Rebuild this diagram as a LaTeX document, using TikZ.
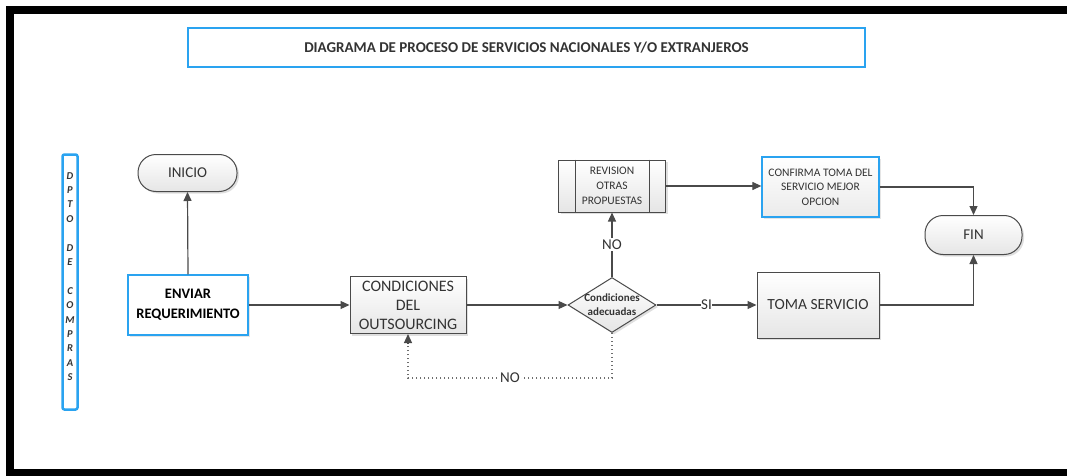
\documentclass[tikz,border=0pt]{standalone}
\usepackage{fontspec}
\setmainfont{Carlito}
\usetikzlibrary{arrows.meta,shapes.geometric,shadows}
\definecolor{lineg}{HTML}{4A4A4A}
\definecolor{boxblue}{HTML}{2AA3F0}
\definecolor{txtg}{HTML}{333333}
\tikzset{
  conn/.style={draw=lineg,line width=1.2pt,-{Triangle[length=9pt,width=8pt]}},
  plain/.style={draw=lineg,line width=1.2pt},
  dots/.style={draw=lineg!80,line width=1.3pt,dash pattern=on 1.3pt off 2.7pt},
  graybox/.style={draw=lineg,line width=1pt,top color=white,bottom color=black!10,
     drop shadow={opacity=0.25,shadow xshift=2pt,shadow yshift=-2pt},text=txtg,align=center,inner sep=0pt},
  bluebox/.style={draw=boxblue,line width=1.3pt,fill=white,text=black,align=center,inner sep=0pt,
     drop shadow={opacity=0.2,shadow xshift=2pt,shadow yshift=-2pt}},
  pill/.style={draw=lineg,line width=1pt,rounded corners=18pt,top color=white,bottom color=black!10,
     drop shadow={opacity=0.25,shadow xshift=2pt,shadow yshift=-2pt},text=txtg,inner sep=0pt},
  lbl/.style={fill=white,inner sep=1.5pt,text=txtg,font=\fontsize{15}{15}\selectfont},
}
\begin{document}
\begin{tikzpicture}[x=1pt,y=-1pt]
\useasboundingbox (0,0) rectangle (1067,476);
% frame
\fill[white] (0,0) rectangle (1067,476);
\fill[black] (6,6) rectangle (1067,14);
\fill[black] (6,6) rectangle (14,476);
\fill[black] (6,469) rectangle (1067,476);
% title
\node[draw=boxblue,line width=1.2pt,minimum width=677pt,minimum height=39pt,inner sep=0pt,
  font=\bfseries\fontsize{15}{16}\selectfont,text=txtg] (title) at (526.5,47.5)
  {DIAGRAMA DE PROCESO DE SERVICIOS NACIONALES Y/O EXTRANJEROS};
% lane
\node[draw=boxblue,line width=2.5pt,rounded corners=2pt,minimum width=15pt,minimum height=255pt,inner sep=0pt] (lane) at (70,282) {};
\node[font=\bfseries\itshape\fontsize{10.5}{14.4}\selectfont,align=center,text=txtg,anchor=north,inner sep=0pt] (lanetxt) at (70,172)
  {D\\P\\T\\O\\[14.4pt]D\\E\\[14.4pt]C\\O\\M\\P\\R\\A\\S};
% nodes
\node[pill,minimum width=99pt,minimum height=37pt,font=\fontsize{15}{16}\selectfont] (inicio) at (187.5,173) {INICIO};
\node[bluebox,minimum width=120pt,minimum height=60pt,font=\bfseries\fontsize{14.5}{20}\selectfont] (enviar) at (188,305) {ENVIAR\\REQUERIMIENTO};
\node[graybox,minimum width=116pt,minimum height=57pt,font=\fontsize{16}{19}\selectfont] (cond) at (408,305) {CONDICIONES\\DEL\\OUTSOURCING};
\node[diamond,draw=lineg,line width=1pt,top color=white,bottom color=black!10,
  drop shadow={opacity=0.25,shadow xshift=2pt,shadow yshift=-2pt},
  minimum width=88pt,minimum height=55pt,inner sep=0pt,aspect=1.6] (dec) at (612,305) {};
\node[font=\bfseries\fontsize{11}{14}\selectfont,align=center,text=txtg] (dectxt) at (dec.center) {Condiciones\\adecuadas};
\node[graybox,minimum width=107pt,minimum height=52pt,font=\fontsize{11.5}{15}\selectfont] (rev) at (612,186) {REVISION\\OTRAS\\PROPUESTAS};
\draw[lineg,line width=1pt] ([xshift=17pt]rev.north west) -- ([xshift=17pt]rev.south west);
\draw[lineg,line width=1pt] ([xshift=-17pt]rev.north east) -- ([xshift=-17pt]rev.south east);
\node[draw=boxblue,line width=1.3pt,top color=white,bottom color=black!8,
  drop shadow={opacity=0.2,shadow xshift=2pt,shadow yshift=-2pt},
  text=txtg,align=center,inner sep=0pt,minimum width=117pt,minimum height=60pt,
  font=\fontsize{11.5}{14.5}\selectfont] (conf) at (820.5,187) {CONFIRMA TOMA DEL\\SERVICIO MEJOR\\OPCION};
\node[graybox,minimum width=122pt,minimum height=66pt,font=\fontsize{15.5}{16}\selectfont] (toma) at (818,305) {TOMA SERVICIO};
\node[pill,minimum width=97pt,minimum height=39pt,font=\fontsize{15}{16}\selectfont] (fin) at (973.5,235) {FIN};
% connectors
\draw[conn] (enviar.north) -- (inicio.south);
\draw[conn] (enviar.east) -- (cond.west);
\draw[conn] (cond.east) -- (dec.west);
\draw[conn] (dec.north) -- node[lbl] {NO} (rev.south);
\draw[conn] (rev.east) -- (rev.east -| conf.west);
\draw[conn] (conf.east) -| (fin.north);
\draw[conn] (dec.east) -- node[lbl,inner sep=0.5pt,pos=0.5] {SI} (toma.west);
\draw[conn] (toma.east) -| (fin.south);
\coordinate (d1) at (612,378);
\coordinate (d2) at (408,378);
\coordinate (d3) at ([yshift=-10pt]cond.south);
\draw[dots] (dec.south) -- (d1) -- node[lbl] {NO} (d2) -- (d3);
\draw[conn] (d3) -- (cond.south);
\end{tikzpicture}
\end{document}
